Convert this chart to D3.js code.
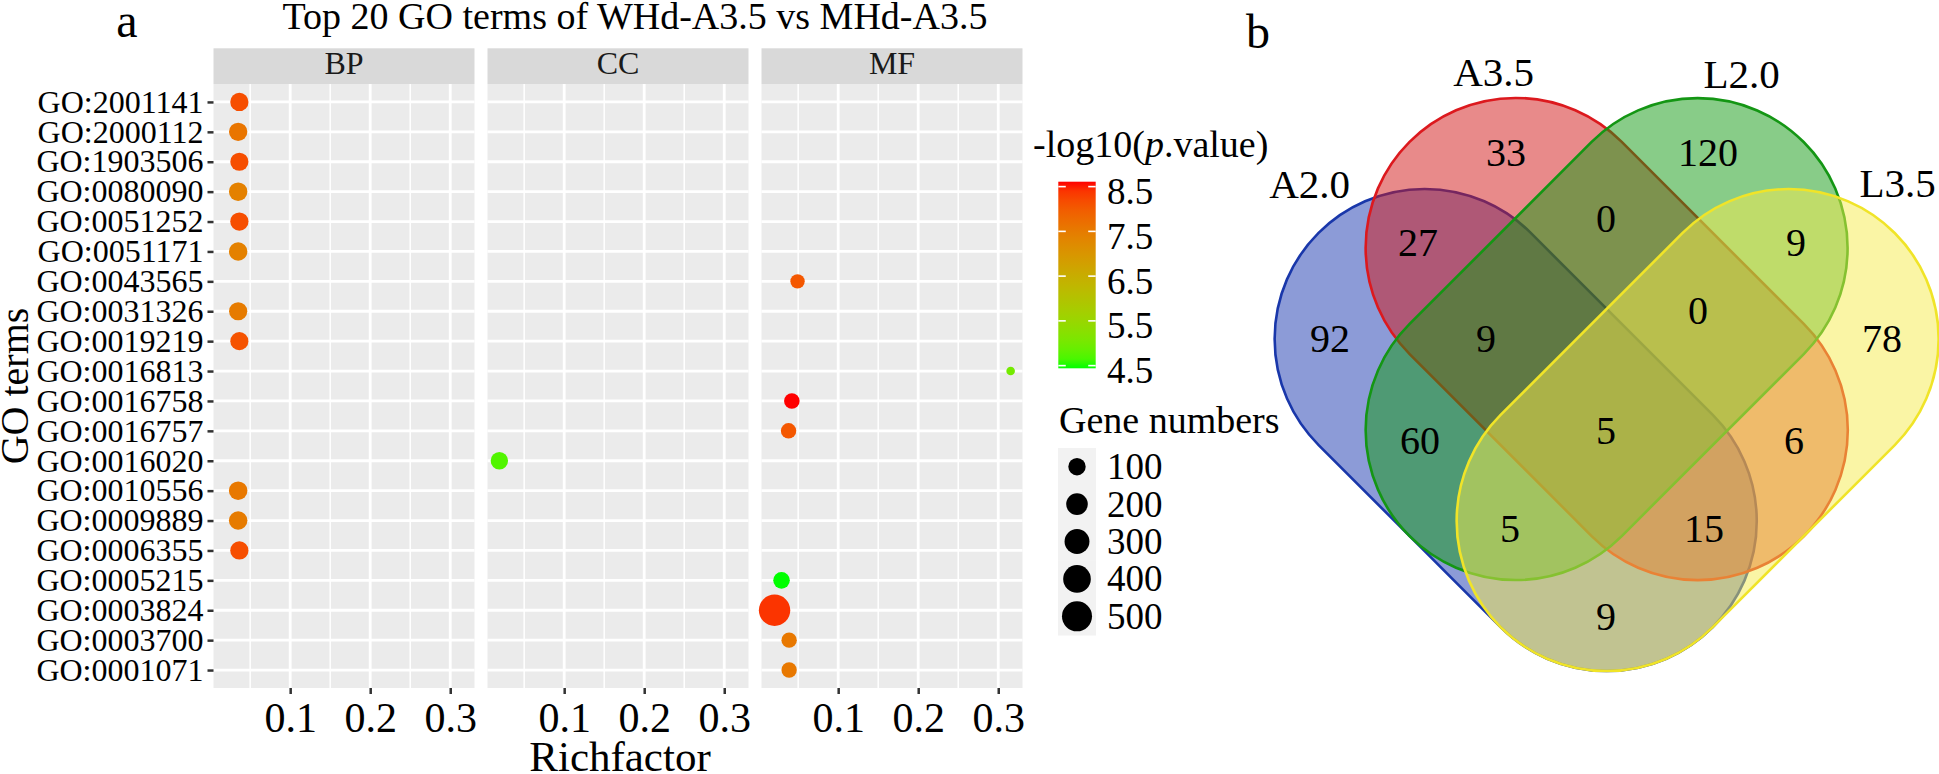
<!DOCTYPE html>
<html><head><meta charset="utf-8">
<script src="https://cdn.jsdelivr.net/npm/d3@7"></script>
<style>
body{margin:0;background:#fff}
svg{display:block}
text{font-family:"Liberation Serif","Times New Roman",serif;fill:#000}
</style>
</head><body>
<svg id="chart" width="1939" height="774"></svg>
<script>
// ---------------- DATA ----------------
const goTerms = ["GO:2001141","GO:2000112","GO:1903506","GO:0080090","GO:0051252","GO:0051171","GO:0043565","GO:0031326","GO:0019219","GO:0016813","GO:0016758","GO:0016757","GO:0016020","GO:0010556","GO:0009889","GO:0006355","GO:0005215","GO:0003824","GO:0003700","GO:0001071"];
const ontology = ["BP","BP","BP","BP","BP","BP","MF","BP","BP","MF","MF","MF","CC","BP","BP","BP","MF","MF","MF","MF"];
const richFactor = [0.0365,0.035,0.0365,0.035,0.0365,0.035,0.0492,0.035,0.0365,0.3155,0.0421,0.038,0.019,0.035,0.035,0.0365,0.0292,0.0205,0.0387,0.0387];
const negLog10P = [8.15,7.6,8.15,7.4,8.15,7.4,8.05,7.5,8.1,5.0,8.61,8.05,4.7,7.55,7.5,8.15,4.44,8.4,7.55,7.55];
const geneNumbers = [118,120,116,122,119,121,50,117,115,2,68,66,100,123,124,118,85,560,65,65];
const facets = ["BP","CC","MF"];
const xTicks = [0.1,0.2,0.3];
const xMinorTicks = [0.05,0.15,0.25];
const colorTicks = [4.5,5.5,6.5,7.5,8.5];
const sizeBreaks = [100,200,300,400,500];

const vennSets = ["A2.0","A3.5","L2.0","L3.5"];
const vennRegionSets = [["A2.0"],["A3.5"],["L2.0"],["L3.5"],
  ["A2.0","A3.5"],["A3.5","L2.0"],["L2.0","L3.5"],["A2.0","L2.0"],["A3.5","L3.5"],["A2.0","L3.5"],
  ["A2.0","A3.5","L2.0"],["A3.5","L2.0","L3.5"],["A2.0","L2.0","L3.5"],["A2.0","A3.5","L3.5"],
  ["A2.0","A3.5","L2.0","L3.5"]];
const vennRegionCounts = [92,33,120,78,27,0,9,60,6,9,9,0,5,15,5];

// ---------------- SETUP ----------------
const W = 1939, H = 774;
const svg = d3.select("#chart");

// ---------------- PANEL a : dot plot ----------------
const panelTop = 84, panelBottom = 688, panelLeft = 213.5, panelW = 261, panelGap = 13;
const xExt = d3.extent(richFactor), xPad = (xExt[1]-xExt[0])*0.05;
const x = d3.scaleLinear().domain([xExt[0]-xPad, xExt[1]+xPad]).range([0, panelW]);
const y = d3.scalePoint().domain(goTerms).range([panelTop, panelBottom]).padding(0.6);
const cExt = d3.extent(negLog10P);
const color = d3.scaleLinear().domain(cExt).range(["#00ff00","#ff0000"]).interpolate(d3.interpolateLab);
const size = d3.scaleSqrt().domain(d3.extent(geneNumbers)).range([4.3, 15.7]);

const rows = goTerms.map((t,i)=>({term:t, ont:ontology[i], rf:richFactor[i], p:negLog10P[i], n:geneNumbers[i]}));

facets.forEach((f, fi) => {
  const g = svg.append("g").attr("transform", `translate(${panelLeft + fi*(panelW+panelGap)},0)`);
  g.append("rect").attr("x",0).attr("y",48.3).attr("width",panelW).attr("height",panelTop-48.3).attr("fill","#d9d9d9");
  g.append("text").attr("x",panelW/2).attr("y",73.5).attr("text-anchor","middle")
    .style("font-size","32px").style("fill","#1a1a1a").text(f);
  g.append("rect").attr("x",0).attr("y",panelTop).attr("width",panelW).attr("height",panelBottom-panelTop).attr("fill","#ebebeb");
  g.selectAll(".mnx").data(xMinorTicks.filter(v=>v>x.domain()[0]&&v<x.domain()[1])).join("line")
    .attr("x1",d=>x(d)).attr("x2",d=>x(d)).attr("y1",panelTop).attr("y2",panelBottom)
    .attr("stroke","#fff").attr("stroke-width",1.5);
  g.selectAll(".mjx").data(xTicks).join("line")
    .attr("x1",d=>x(d)).attr("x2",d=>x(d)).attr("y1",panelTop).attr("y2",panelBottom)
    .attr("stroke","#fff").attr("stroke-width",2.8);
  g.selectAll(".mjy").data(goTerms).join("line")
    .attr("x1",0).attr("x2",panelW).attr("y1",d=>y(d)).attr("y2",d=>y(d))
    .attr("stroke","#fff").attr("stroke-width",2.8);
  g.selectAll("circle.pt").data(rows.filter(r=>r.ont===f)).join("circle")
    .attr("class","pt").attr("cx",d=>x(d.rf)).attr("cy",d=>y(d.term))
    .attr("r",d=>size(d.n)).attr("fill",d=>color(d.p));
  const ax = g.append("g").attr("transform",`translate(0,${panelBottom})`)
    .call(d3.axisBottom(x).tickValues(xTicks).tickSize(6).tickPadding(8).tickFormat(d3.format(".1f")));
  ax.select(".domain").remove();
  ax.selectAll(".tick line").attr("stroke","#333").attr("stroke-width",2.5);
  ax.selectAll(".tick text").style("font-size","42px").style("font-family","'Liberation Serif',serif").attr("fill","#000");
});

const yAx = svg.append("g").attr("transform",`translate(${panelLeft},0)`)
  .call(d3.axisLeft(y).tickSize(6).tickPadding(4));
yAx.select(".domain").remove();
yAx.selectAll(".tick line").attr("stroke","#333").attr("stroke-width",2.5);
yAx.selectAll(".tick text").style("font-size","32px").style("font-family","'Liberation Serif',serif").attr("fill","#000").attr("dy","0.32em");

svg.append("text").attr("x",635).attr("y",29).attr("text-anchor","middle").style("font-size","38px")
  .text("Top 20 GO terms of WHd-A3.5 vs MHd-A3.5");
svg.append("text").attr("x",620).attr("y",771).attr("text-anchor","middle").style("font-size","43px").text("Richfactor");
svg.append("text").attr("transform",`translate(28,${(panelTop+panelBottom)/2}) rotate(-90)`).attr("text-anchor","middle")
  .style("font-size","40px").text("GO terms");
svg.append("text").attr("x",127).attr("y",37).attr("text-anchor","middle").style("font-size","48px").text("a");

// ---------------- legends ----------------
const lt = svg.append("text").attr("x",1033).attr("y",157).style("font-size","38px");
lt.append("tspan").text("-log10(");
lt.append("tspan").style("font-style","italic").text("p");
lt.append("tspan").text(".value)");

const barX = 1058.3, barW = 37.4, barTop = 181.7, barBot = 368.3;
const cy = d3.scaleLinear().domain(cExt).range([barBot, barTop]);
const defs = svg.append("defs");
const grad = defs.append("linearGradient").attr("id","cgrad").attr("x1",0).attr("x2",0).attr("y1",1).attr("y2",0);
d3.range(0,1.0001,0.05).forEach(t=>{
  grad.append("stop").attr("offset",t).attr("stop-color",color(cExt[0]+t*(cExt[1]-cExt[0])));
});
svg.append("rect").attr("x",barX).attr("y",barTop).attr("width",barW).attr("height",barBot-barTop).attr("fill","url(#cgrad)");
colorTicks.forEach(v=>{
  const yy = cy(v);
  svg.append("line").attr("x1",barX).attr("x2",barX+barW/5).attr("y1",yy).attr("y2",yy).attr("stroke","#fff").attr("stroke-width",1.6);
  svg.append("line").attr("x1",barX+barW*4/5).attr("x2",barX+barW).attr("y1",yy).attr("y2",yy).attr("stroke","#fff").attr("stroke-width",1.6);
  svg.append("text").attr("x",1107).attr("y",yy+5).attr("dy","0.34em").style("font-size","37px").text(v.toFixed(1));
});

svg.append("text").attr("x",1059).attr("y",433).style("font-size","38px").text("Gene numbers");
const keyTop = 448, keyH = 37.4, keyX = 1058, keyW = 38;
sizeBreaks.forEach((b,i)=>{
  const yy = keyTop + keyH*(i+0.5);
  svg.append("rect").attr("x",keyX).attr("y",keyTop+keyH*i).attr("width",keyW).attr("height",keyH+0.5).attr("fill","#f2f2f2");
  svg.append("circle").attr("cx",keyX+keyW/2).attr("cy",yy).attr("r",size(b)).attr("fill","#000");
  svg.append("text").attr("x",1107).attr("y",yy).attr("dy","0.34em").style("font-size","37px").text(b);
});

// ---------------- PANEL b : Venn ----------------
const O = {x:1606.7, y:339}, s = 91, R = 150;
const capsules = [
  [[O.x-2*s,O.y],[O.x,O.y+2*s]],   // A2.0
  [[O.x-s,O.y-s],[O.x+s,O.y+s]],   // A3.5
  [[O.x+s,O.y-s],[O.x-s,O.y+s]],   // L2.0
  [[O.x+2*s,O.y],[O.x,O.y+2*s]]    // L3.5
];
const vennFill = ["rgb(25,55,175)","rgb(209,21,21)","rgb(17,153,17)","rgb(245,235,75)"];
const vennStroke = ["rgb(25,55,170)","rgb(220,25,30)","rgb(20,150,20)","rgb(240,228,40)"];
const labelOffset = [[-115,-155],[-22,-176],[44,-174],[109,-156]];

function capsulePath(c){
  const [a,b] = c;
  const L = Math.hypot(b[0]-a[0], b[1]-a[1]);
  const d = [(b[0]-a[0])/L, (b[1]-a[1])/L];
  const n = [-d[1], d[0]];
  const ang = Math.atan2(n[1], n[0]);
  const p = d3.path();
  p.moveTo(a[0]+R*n[0], a[1]+R*n[1]);
  p.lineTo(b[0]+R*n[0], b[1]+R*n[1]);
  p.arc(b[0], b[1], R, ang, ang-Math.PI, true);
  p.lineTo(a[0]-R*n[0], a[1]-R*n[1]);
  p.arc(a[0], a[1], R, ang-Math.PI, ang-2*Math.PI, true);
  p.closePath();
  return p.toString();
}
capsules.forEach((c,i)=>{
  svg.append("path").attr("d",capsulePath(c)).attr("fill",vennFill[i]).attr("fill-opacity",0.5)
    .attr("stroke",vennStroke[i]).attr("stroke-width",2.6);
});

function segDist(px,py,a,b){
  const dx=b[0]-a[0], dy=b[1]-a[1];
  let t=((px-a[0])*dx+(py-a[1])*dy)/(dx*dx+dy*dy);
  t=Math.max(0,Math.min(1,t));
  return Math.hypot(a[0]+t*dx-px, a[1]+t*dy-py);
}
vennRegionSets.forEach((sets, ri)=>{
  const member = vennSets.map(nm=>sets.includes(nm));
  let best=-Infinity, bx=0, by=0;
  for (let gx=1262; gx<=W-2; gx+=2){
    for (let gy=90; gy<=H-2; gy+=2){
      let c = Infinity;
      for (let k=0;k<4;k++){
        const dd = R - segDist(gx,gy,capsules[k][0],capsules[k][1]);
        const v = member[k] ? dd : -dd;
        if (v<c) c=v;
        if (c<=best) break;
      }
      if (c>best){best=c;bx=gx;by=gy;}
    }
  }
  svg.append("text").attr("x",bx).attr("y",by).attr("dy","0.34em").attr("text-anchor","middle")
    .style("font-size","40px").text(vennRegionCounts[ri]);
});
vennSets.forEach((nm,i)=>{
  const c = capsules[i][0];
  svg.append("text").attr("x",c[0]+labelOffset[i][0]).attr("y",c[1]+labelOffset[i][1]).attr("dy","0.34em")
    .attr("text-anchor","middle").style("font-size","41px").text(nm);
});
svg.append("text").attr("x",1258).attr("y",48).attr("text-anchor","middle").style("font-size","48px").text("b");
</script>
</body></html>
